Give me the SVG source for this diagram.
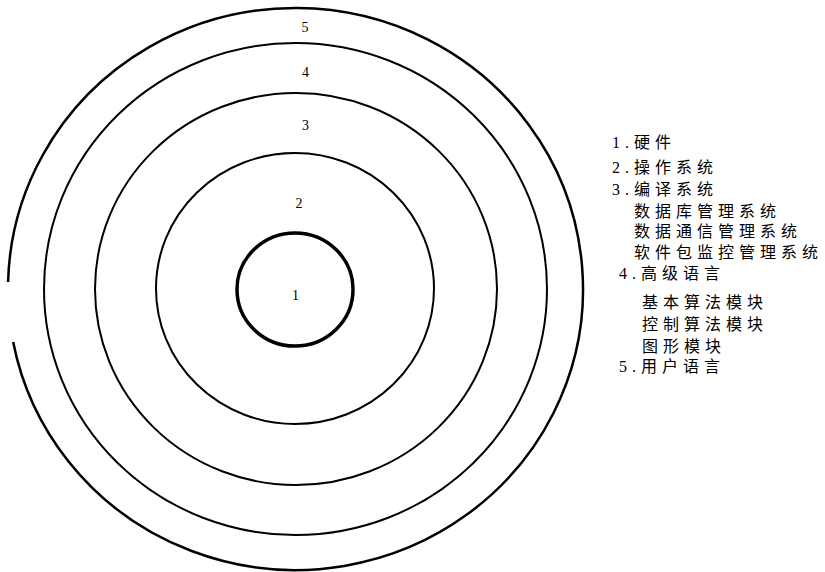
<svg xmlns="http://www.w3.org/2000/svg" width="825" height="572" viewBox="0 0 825 572">
<style>
.ring{fill:none;stroke:#000;stroke-width:2}
.num{font-family:"Liberation Serif",serif;font-size:14px;fill:#000;text-anchor:middle}
.leg{font-family:"Liberation Serif","Noto Sans CJK SC",sans-serif;font-size:16px;fill:#000;letter-spacing:5px}
</style>
<rect width="825" height="572" fill="#fff"/>
<g id="ring5">
<path class="ring" style="stroke-width:2.5" d="M 8.09 282 A 287.5 281 0 1 1 13.16 342"/>
<text class="num" x="305" y="32">5</text>
</g>
<g id="ring4">
<ellipse class="ring" cx="295.5" cy="289" rx="251.5" ry="246"/>
<text class="num" x="305.5" y="77">4</text>
</g>
<g id="ring3">
<ellipse class="ring" cx="296" cy="289" rx="201" ry="196"/>
<text class="num" x="305.5" y="130">3</text>
</g>
<g id="ring2">
<ellipse class="ring" cx="295" cy="288.5" rx="139" ry="135.5"/>
<text class="num" x="299" y="208">2</text>
</g>
<g id="ring1">
<ellipse class="ring" style="stroke-width:3.5" cx="295" cy="289.5" rx="58" ry="56.5"/>
<text class="num" x="295.5" y="300">1</text>
</g>
<g id="legend">
<text class="leg" x="612" y="148">1.硬件</text>
<text class="leg" x="612" y="173">2.操作系统</text>
<text class="leg" x="612" y="195">3.编译系统</text>
<text class="leg" x="634" y="217">数据库管理系统</text>
<text class="leg" x="634" y="237">数据通信管理系统</text>
<text class="leg" x="634" y="258">软件包监控管理系统</text>
<text class="leg" x="619" y="279">4.高级语言</text>
<text class="leg" x="642" y="308">基本算法模块</text>
<text class="leg" x="642" y="330">控制算法模块</text>
<text class="leg" x="642" y="352">图形模块</text>
<text class="leg" x="619" y="372">5.用户语言</text>
</g>
<g id="connectors"/>
</svg>
